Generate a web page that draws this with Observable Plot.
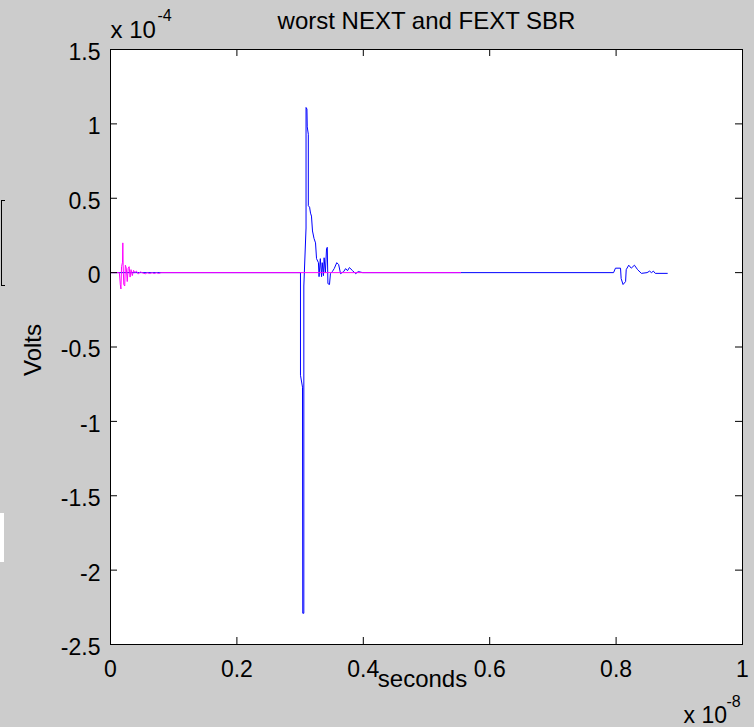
<!DOCTYPE html>
<html><head><meta charset="utf-8">
<script src="https://cdn.jsdelivr.net/npm/d3@7"></script>
<script src="https://cdn.jsdelivr.net/npm/@observablehq/plot@0.6"></script>
<style>
html,body{margin:0;padding:0;background:#cccccc;}
#chart{position:relative;width:754px;height:727px;overflow:hidden;}
.art1{position:absolute;left:1px;top:200px;width:3px;height:84px;border:1px solid #000;border-right:none;}
.art2{position:absolute;left:0;top:513px;width:4px;height:49px;background:#fff;}
</style></head><body><div id="chart"></div>
<script>
// FEXT (blue) series, x in units of 1e-8 s, y in units of 1e-4 V
const fextX = [0, 0.3006, 0.3006, 0.3038, 0.3042, 0.3059, 0.3059, 0.3094, 0.3094, 0.3108,
  0.3113, 0.3130, 0.3130, 0.3150, 0.3165, 0.3180, 0.3196, 0.3220, 0.3244, 0.326,
  0.329, 0.330, 0.332, 0.334, 0.335, 0.337, 0.338, 0.340, 0.3418, 0.343,
  0.344, 0.3465, 0.348, 0.351, 0.354, 0.358, 0.361, 0.364, 0.369, 0.372,
  0.375, 0.378, 0.383, 0.388, 0.392, 0.399, 0.796, 0.799, 0.807, 0.808,
  0.811, 0.815, 0.816, 0.820, 0.824, 0.829, 0.834, 0.840, 0.849, 0.853,
  0.856, 0.859, 0.862, 0.881];
const fextY = [0, 0, -0.69, -0.77, -2.29, -2.29, -0.09, 0.30, 1.11, 1.10,
  0.98, 0.93, 0.45, 0.44, 0.40, 0.38, 0.28, 0.23, 0.20, 0.094,
  0.067, -0.027, 0.094, -0.027, 0.067, -0.02, 0.10, 0, 0.16, 0.17,
  -0.074, -0.08, -0.007, 0.007, 0.027, 0.067, 0.054, -0.007, 0.007, 0.027,
  0.013, 0.034, 0.013, -0.007, 0.007, 0, 0, 0.03, 0.03, -0.04,
  -0.08, -0.06, 0.02, 0.05, 0.03, 0.05, 0.02, -0.005, 0, 0.01,
  0, 0.01, -0.005, -0.005];
// NEXT (magenta) series
const nextX = [0, 0.0140, 0.0155, 0.0165, 0.0175, 0.0190, 0.0195, 0.0200, 0.0210, 0.0225,
  0.0235, 0.0250, 0.0265, 0.0280, 0.0295, 0.0310, 0.0325, 0.0345, 0.0365, 0.0385,
  0.041, 0.044, 0.047, 0.050, 0.055, 0.058, 0.062, 0.066, 0.069, 0.073,
  0.076, 0.080, 0.554];
const nextY = [0, 0, -0.08, -0.11, 0.04, 0.07, 0.20, 0.05, -0.08, -0.09,
  0.05, 0.03, -0.06, 0.03, 0.04, -0.03, 0.02, -0.02, 0.015, 0,
  0.01, -0.01, 0.005, 0, -0.008, 0, -0.006, 0, -0.006, 0,
  -0.006, 0, 0];

const xTicks = [0, 0.2, 0.4, 0.6, 0.8, 1];
const xTickLabels = ["0", "0.2", "0.4", "0.6", "0.8", "1"];
const yTicks = [1.5, 1, 0.5, 0, -0.5, -1, -1.5, -2, -2.5];
const yTickLabels = ["1.5", "1", "0.5", "0", "-0.5", "-1", "-1.5", "-2", "-2.5"];

const titleText = "worst NEXT and FEXT SBR";
const xLabel = "seconds";
const yLabel = "Volts";
const yExpBase = "x 10", yExp = "-4";
const xExpBase = "x 10", xExp = "-8";

const fext = fextX.map((x, i) => ({x, y: fextY[i]}));
const next = nextX.map((x, i) => ({x, y: nextY[i]}));

const W = 754, H = 727, mL = 110, mR = 12, mT = 49, mB = 83;
const fH = H - mT - mB, fW = W - mL - mR, tickLen = 7;
const font = "'Liberation Sans', Arial, Helvetica, sans-serif";

const plot = Plot.plot({
  width: W, height: H,
  marginLeft: mL, marginRight: mR, marginTop: mT, marginBottom: mB,
  style: {background: "#cccccc", fontFamily: font, color: "black", overflow: "visible"},
  x: {domain: [0, 1]},
  y: {domain: [-2.5, 1.5]},
  marks: [
    Plot.frame({fill: "white", stroke: null}),
    Plot.line(fext, {x: "x", y: "y", stroke: "#0000ff", strokeWidth: 1}),
    Plot.line(next, {x: "x", y: "y", stroke: "#ff00ff", strokeWidth: 1}),
    Plot.frame({stroke: "black", strokeWidth: 1}),
    Plot.tickX(xTicks, {x: d => d, insetTop: fH - tickLen, stroke: "black"}),
    Plot.tickX(xTicks, {x: d => d, insetBottom: fH - tickLen, stroke: "black"}),
    Plot.tickY(yTicks, {y: d => d, insetRight: fW - tickLen, stroke: "black"}),
    Plot.tickY(yTicks, {y: d => d, insetLeft: fW - tickLen, stroke: "black"}),
    Plot.axisX({ticks: xTicks, tickFormat: d => xTickLabels[xTicks.indexOf(d)], tickSize: 0, tickPadding: 16, fontSize: 23, label: null, fill: "black"}),
    Plot.axisY({ticks: yTicks, tickFormat: d => yTickLabels[yTicks.indexOf(d)], tickSize: 0, tickPadding: 10, fontSize: 23, dy: 3, label: null, fill: "black"}),
    Plot.text([titleText], {text: d => d, frameAnchor: "top", textAnchor: "middle", lineAnchor: "bottom", dy: -21, fontSize: 24, fill: "black"}),
    Plot.text([yLabel], {text: d => d, frameAnchor: "left", textAnchor: "middle", lineAnchor: "middle", rotate: -90, dx: -77, dy: 3, fontSize: 24, fill: "black"}),
    Plot.text([xLabel], {text: d => d, frameAnchor: "bottom", textAnchor: "middle", lineAnchor: "bottom", dx: -4, dy: 42, fontSize: 24, fill: "black"}),
    Plot.text([yExpBase], {text: d => d, frameAnchor: "top-left", textAnchor: "start", lineAnchor: "bottom", dy: -12, fontSize: 24, fill: "black"}),
    Plot.text([yExp], {text: d => d, frameAnchor: "top-left", textAnchor: "start", lineAnchor: "bottom", dx: 47, dy: -29, fontSize: 16, fill: "black"}),
    Plot.text([xExpBase], {text: d => d, frameAnchor: "bottom-right", textAnchor: "start", lineAnchor: "bottom", dx: -59, dy: 78, fontSize: 23, fill: "black"}),
    Plot.text([xExp], {text: d => d, frameAnchor: "bottom-right", textAnchor: "start", lineAnchor: "bottom", dx: -16, dy: 62, fontSize: 16, fill: "black"})
  ]
});
const chart = document.getElementById("chart");
chart.appendChild(plot);
const a1 = document.createElement("div"); a1.className = "art1"; chart.appendChild(a1);
const a2 = document.createElement("div"); a2.className = "art2"; chart.appendChild(a2);
</script></body></html>
